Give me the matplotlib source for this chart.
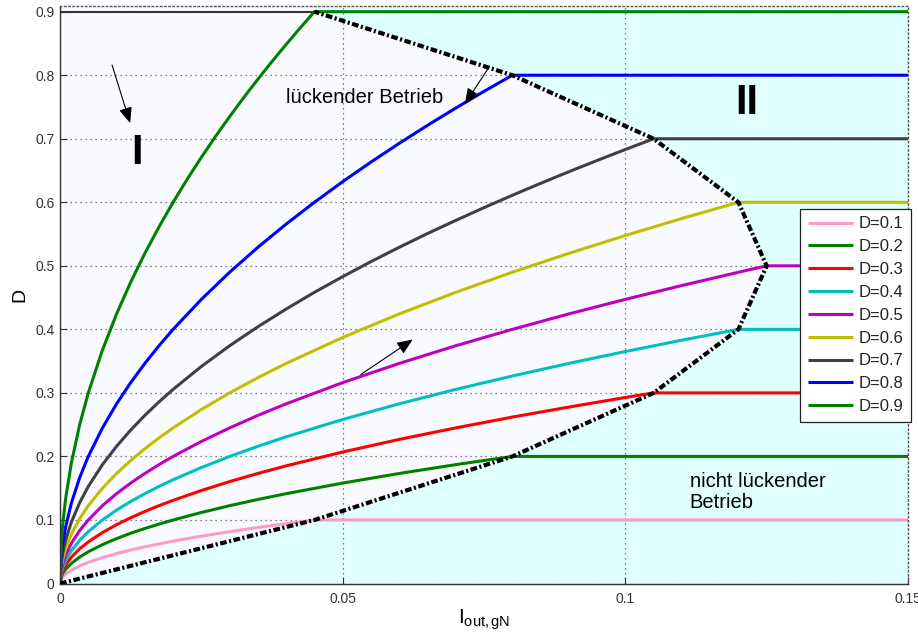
import matplotlib
matplotlib.use("Agg")
import matplotlib.pyplot as plt

plt.rcParams['font.family'] = ['Liberation Sans', 'DejaVu Sans']
plt.rcParams['mathtext.fontset'] = 'custom'
plt.rcParams['mathtext.rm'] = 'Liberation Sans'
plt.rcParams['mathtext.it'] = 'Liberation Sans'

# ---- data ----
labels = ["D=0.1", "D=0.2", "D=0.3", "D=0.4", "D=0.5", "D=0.6", "D=0.7", "D=0.8", "D=0.9"]
colors = ["#FF99C8", "#008000", "#FF0000", "#00BFBF", "#BF00BF", "#BFBF00", "#404040", "#0000FF", "#008000"]

i_01 = [0, 0.00025, 0.0005, 0.001, 0.002, 0.0035, 0.005, 0.0075, 0.01, 0.0125, 0.015, 0.0175, 0.02,
        0.025, 0.03, 0.035, 0.04, 0.045, 0.15]
d_01 = [0, 0.0075, 0.0105, 0.0149, 0.0211, 0.0279, 0.0333, 0.0408, 0.0471, 0.0527, 0.0577, 0.0624, 0.0667,
        0.0745, 0.0816, 0.0882, 0.0943, 0.1, 0.1]

i_02 = [0, 0.00025, 0.0005, 0.001, 0.002, 0.0035, 0.005, 0.0075, 0.01, 0.0125, 0.015, 0.0175, 0.02,
        0.025, 0.03, 0.035, 0.04, 0.05, 0.06, 0.07, 0.08, 0.15]
d_02 = [0, 0.0112, 0.0158, 0.0224, 0.0316, 0.0418, 0.05, 0.0612, 0.0707, 0.0791, 0.0866, 0.0935, 0.1,
        0.1118, 0.1225, 0.1323, 0.1414, 0.1581, 0.1732, 0.1871, 0.2, 0.2]

i_03 = [0, 0.00025, 0.0005, 0.001, 0.002, 0.0035, 0.005, 0.0075, 0.01, 0.0125, 0.015, 0.0175, 0.02,
        0.025, 0.03, 0.035, 0.04, 0.05, 0.06, 0.07, 0.08, 0.09, 0.1, 0.105, 0.15]
d_03 = [0, 0.0146, 0.0207, 0.0293, 0.0414, 0.0548, 0.0655, 0.0802, 0.0926, 0.1035, 0.1134, 0.1225, 0.1309,
        0.1464, 0.1604, 0.1732, 0.1852, 0.2070, 0.2268, 0.2449, 0.2619, 0.2777, 0.2928, 0.3, 0.3]

i_04 = [0, 0.00025, 0.0005, 0.001, 0.002, 0.0035, 0.005, 0.0075, 0.01, 0.0125, 0.015, 0.0175, 0.02,
        0.025, 0.03, 0.035, 0.04, 0.05, 0.06, 0.07, 0.08, 0.09, 0.1, 0.11, 0.12, 0.15]
d_04 = [0, 0.0183, 0.0258, 0.0365, 0.0516, 0.0683, 0.0816, 0.1, 0.1155, 0.1291, 0.1414, 0.1528, 0.1633,
        0.1826, 0.2, 0.2160, 0.2309, 0.2582, 0.2828, 0.3055, 0.3266, 0.3464, 0.3651, 0.3830, 0.4, 0.4]

i_05 = [0, 0.00025, 0.0005, 0.001, 0.002, 0.0035, 0.005, 0.0075, 0.01, 0.0125, 0.015, 0.0175, 0.02,
        0.025, 0.03, 0.035, 0.04, 0.05, 0.06, 0.07, 0.08, 0.09, 0.1, 0.11, 0.12, 0.125, 0.15]
d_05 = [0, 0.0224, 0.0316, 0.0447, 0.0632, 0.0837, 0.1, 0.1225, 0.1414, 0.1581, 0.1732, 0.1871, 0.2,
        0.2236, 0.2449, 0.2646, 0.2828, 0.3162, 0.3464, 0.3742, 0.4, 0.4243, 0.4472, 0.4690, 0.4899, 0.5, 0.5]

i_06 = [0, 0.00025, 0.0005, 0.001, 0.002, 0.0035, 0.005, 0.0075, 0.01, 0.0125, 0.015, 0.0175, 0.02,
        0.025, 0.03, 0.035, 0.04, 0.05, 0.06, 0.07, 0.08, 0.09, 0.1, 0.11, 0.12, 0.15]
d_06 = [0, 0.0274, 0.0387, 0.0548, 0.0775, 0.1025, 0.1225, 0.15, 0.1732, 0.1936, 0.2121, 0.2291, 0.2449,
        0.2739, 0.3, 0.3240, 0.3464, 0.3873, 0.4243, 0.4583, 0.4899, 0.5196, 0.5477, 0.5745, 0.6, 0.6]

i_07 = [0, 0.00025, 0.0005, 0.001, 0.002, 0.0035, 0.005, 0.0075, 0.01, 0.0125, 0.015, 0.0175, 0.02,
        0.025, 0.03, 0.035, 0.04, 0.045, 0.05, 0.055, 0.06, 0.065, 0.07, 0.075, 0.08, 0.085, 0.09,
        0.095, 0.1, 0.105, 0.15]
d_07 = [0, 0.0342, 0.0483, 0.0683, 0.0966, 0.1278, 0.1528, 0.1871, 0.2160, 0.2415, 0.2646, 0.2858, 0.3055,
        0.3416, 0.3742, 0.4041, 0.4320, 0.4583, 0.4830, 0.5066, 0.5292, 0.5508, 0.5715, 0.5916, 0.6110,
        0.6298, 0.6481, 0.6658, 0.6831, 0.7, 0.7]

i_08 = [0, 0.00025, 0.0005, 0.001, 0.002, 0.0035, 0.005, 0.0075, 0.01, 0.0125, 0.015, 0.0175, 0.02,
        0.025, 0.03, 0.035, 0.04, 0.045, 0.05, 0.055, 0.06, 0.065, 0.07, 0.075, 0.08, 0.15]
d_08 = [0, 0.0447, 0.0632, 0.0894, 0.1265, 0.1673, 0.2, 0.2449, 0.2828, 0.3162, 0.3464, 0.3742, 0.4,
        0.4472, 0.4899, 0.5292, 0.5657, 0.6, 0.6325, 0.6633, 0.6928, 0.7211, 0.7483, 0.7746, 0.8, 0.8]

i_09 = [0, 0.00025, 0.0005, 0.001, 0.002, 0.0035, 0.005, 0.0075, 0.01, 0.0125, 0.015, 0.0175, 0.02,
        0.0225, 0.025, 0.0275, 0.03, 0.0325, 0.035, 0.0375, 0.04, 0.0425, 0.045, 0.15]
d_09 = [0, 0.0671, 0.0949, 0.1342, 0.1897, 0.2510, 0.3, 0.3674, 0.4243, 0.4743, 0.5196, 0.5612, 0.6,
        0.6364, 0.6708, 0.7036, 0.7348, 0.7649, 0.7937, 0.8216, 0.8485, 0.8746, 0.9, 0.9]

curves_i = [i_01, i_02, i_03, i_04, i_05, i_06, i_07, i_08, i_09]
curves_d = [d_01, d_02, d_03, d_04, d_05, d_06, d_07, d_08, d_09]

# boundary between discontinuous and continuous conduction
bound_i = [0, 0.045, 0.08, 0.105, 0.12, 0.125, 0.12, 0.105, 0.08, 0.045]
bound_d = [0, 0.1, 0.2, 0.3, 0.4, 0.5, 0.6, 0.7, 0.8, 0.9]

xticks = [0, 0.05, 0.1, 0.15]
xticklabels = ["0", "0.05", "0.1", "0.15"]
yticks = [0, 0.1, 0.2, 0.3, 0.4, 0.5, 0.6, 0.7, 0.8, 0.9]
yticklabels = ["0", "0.1", "0.2", "0.3", "0.4", "0.5", "0.6", "0.7", "0.8", "0.9"]

# ---- figure ----
fig = plt.figure(figsize=(9.18, 6.42), dpi=100)
ax = fig.add_axes([0.0654, 0.0911, 0.9237, 0.8996])
xmax, ymax = 0.15, 0.909
ax.set_xlim(0, xmax)
ax.set_ylim(0, ymax)
ax.set_facecolor("#F8FAFF")

# continuous-conduction region (II)
poly_x = bound_i + [bound_i[-1], xmax, xmax]
poly_y = bound_d + [ymax, ymax, 0]
ax.fill(poly_x, poly_y, color="#E0FFFF", zorder=0.5, lw=0)

ax.grid(True, color="#555555", linestyle=(0, (1, 3)), linewidth=0.9, zorder=0.8)

for xi, di, c, lab in zip(curves_i, curves_d, colors, labels):
    ax.plot(xi, di, color=c, lw=2.2, label=lab, zorder=2, solid_capstyle='butt',
            solid_joinstyle='round')

ax.plot([0, bound_i[-1]], [bound_d[-1], bound_d[-1]], color="#333333", lw=1.5, zorder=2)
ax.plot(bound_i, bound_d, color="black", lw=3.0, linestyle=(0, (1.6, 0.6, 0.5, 0.6)), zorder=3)

ax.set_xticks(xticks)
ax.set_xticklabels(xticklabels)
ax.set_yticks(yticks)
ax.set_yticklabels(yticklabels)
ax.tick_params(direction="in", length=5, width=0.8, colors="#333333", labelsize=10, pad=4)
ax.tick_params(axis="x", pad=6)

for s in ["left", "bottom"]:
    ax.spines[s].set_color("#333333")
    ax.spines[s].set_linewidth(1.0)
for s in ["top", "right"]:
    ax.spines[s].set_color("#555555")
    ax.spines[s].set_linestyle((0, (1, 2)))
    ax.spines[s].set_linewidth(1.0)

ax.set_ylabel("D", fontsize=14, labelpad=5)
ax.set_xlabel(r"$\mathrm{I}_{\mathrm{out,gN}}$", fontsize=15, labelpad=1)

# annotations
ax.text(0.040, 0.7656, "lückender Betrieb", fontsize=14.5, va="center", ha="left", color="black", zorder=5)
ax.text(0.1114, 0.144, "nicht lückender\nBetrieb", fontsize=14.5, va="center", ha="left",
        linespacing=1.1, color="black", zorder=5)
ax.text(0.0136, 0.677, "I", fontsize=30, fontweight="bold", ha="center", va="center", zorder=5)
ax.text(0.1214, 0.756, "II", fontsize=30, fontweight="bold", ha="center", va="center", zorder=5)

arrow_kw = dict(arrowstyle="-|>,head_length=0.6,head_width=0.25", color="black", lw=0.8,
                mutation_scale=16, shrinkA=0, shrinkB=0)
ax.annotate("", xy=(0.0124, 0.7246), xytext=(0.0092, 0.816), arrowprops=arrow_kw, zorder=6)
ax.annotate("", xy=(0.0716, 0.7546), xytext=(0.0759, 0.813), arrowprops=arrow_kw, zorder=6)
ax.annotate("", xy=(0.0624, 0.384), xytext=(0.0532, 0.329), arrowprops=arrow_kw, zorder=6)

leg = ax.legend(loc="upper right", bbox_to_anchor=(1.0035, 0.6485), fontsize=12,
                frameon=True, fancybox=False, framealpha=1, edgecolor="#222222",
                handlelength=2.7, handletextpad=0.35, borderpad=0.45, labelspacing=0.47,
                borderaxespad=0)
leg.get_frame().set_linewidth(0.9)
leg.set_zorder(10)
for t in leg.get_texts():
    t.set_color("#222222")

fig.savefig("out.png", dpi=100)
